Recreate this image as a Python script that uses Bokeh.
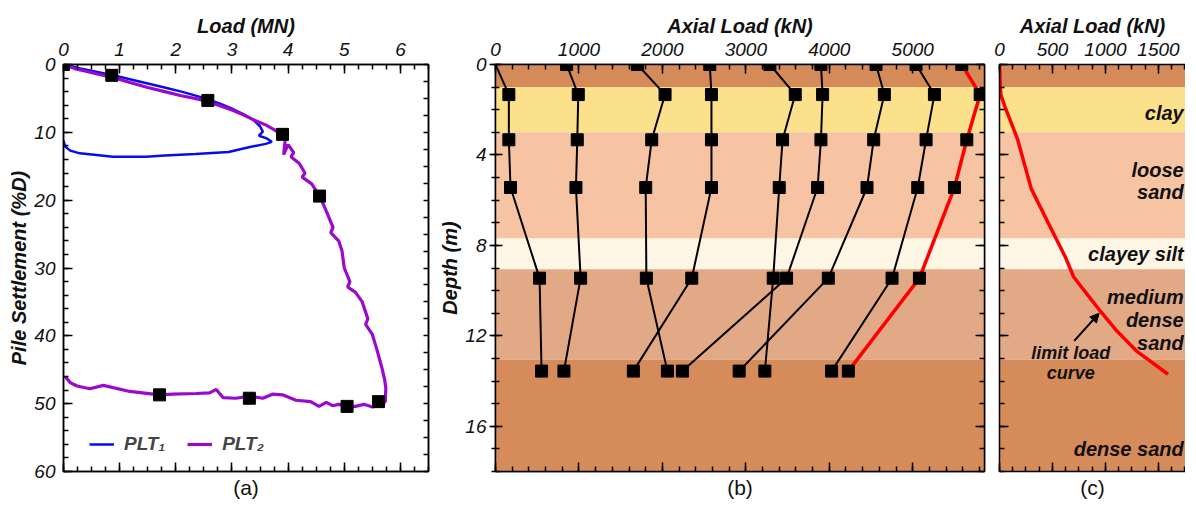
from bokeh.plotting import figure
from bokeh.models import (Range1d, LinearAxis, SingleIntervalTicker, FixedTicker,
                          Arrow, NormalHead, Legend, LegendItem,
                          CustomJSTickFormatter)
from bokeh.layouts import row
from bokeh.embed import file_html
from bokeh.resources import INLINE
from bokeh.core.properties import value

FONT = "Liberation Sans"
TICK_FS = "19px"
TITLE_FS = "20px"

# ---------------- Panel (a): load-settlement ----------------
plt1_load = [0.0, 0.3, 0.6, 0.9, 1.2, 1.5, 1.8, 2.1, 2.4, 2.56, 2.8, 3.0, 3.2, 3.4, 3.5,
             3.55, 3.48, 3.62, 3.71, 3.6, 3.3, 2.94, 2.35, 1.8, 1.47, 0.88, 0.59, 0.29,
             0.12, 0.03, 0.0]
plt1_settle = [0.0, 0.6, 1.1, 1.6, 2.2, 2.8, 3.4, 4.0, 4.7, 5.1, 5.8, 6.5, 7.3, 8.3, 9.1,
               9.9, 10.5, 10.9, 11.4, 11.7, 12.2, 12.9, 13.2, 13.4, 13.6, 13.6, 13.35, 13.1,
               12.7, 12.1, 11.2]

plt2_load = [0.0, 0.2, 0.4, 0.6, 0.88, 1.2, 1.5, 1.8, 2.1, 2.4, 2.57, 2.8, 3.0, 3.2, 3.4,
             3.6, 3.75, 3.88, 3.95, 3.92, 4.0, 4.1, 4.05, 4.2, 4.3, 4.25, 4.42, 4.57, 4.68,
             4.8, 4.76, 4.9, 4.96, 5.0, 5.1, 5.06, 5.2, 5.32, 5.42, 5.38, 5.5, 5.58, 5.67,
             5.72, 5.74, 5.73,
             5.65, 5.5, 5.35, 5.2, 5.05, 4.9, 4.79, 4.68, 4.55, 4.4, 4.14, 3.9, 3.72, 3.55,
             3.31, 3.07, 2.84, 2.72, 2.6, 2.36, 1.95, 1.71, 1.18, 0.71, 0.47, 0.24, 0.12,
             0.03]
plt2_settle = [0.0, 0.6, 1.0, 1.4, 1.9, 2.7, 3.4, 4.0, 4.6, 5.1, 5.5, 6.1, 6.7, 7.4, 8.2,
               8.9, 9.6, 10.3, 11.0, 13.3, 11.8, 13.0, 13.6, 14.6, 16.0, 16.6, 17.6, 19.5,
               21.6, 24.0, 24.8, 26.0, 27.5, 30.0, 32.0, 32.8, 33.6, 35.0, 37.5, 38.3, 39.8,
               42.0, 44.7, 46.5, 47.7, 49.7,
               50.2, 50.5, 50.1, 50.4, 50.4, 50.1, 50.3, 49.8, 50.4, 49.7, 49.5, 48.7, 48.6,
               49.2, 48.9, 49.2, 49.1, 47.9, 48.4, 48.5, 48.6, 48.7, 48.2, 47.3, 47.8, 47.4,
               46.9, 46.0]

stage_load = [0.0, 0.86, 2.57, 3.9, 4.56, 5.61, 5.05, 3.31, 1.71]
stage_settle = [0.0, 1.6, 5.3, 10.3, 19.4, 49.7, 50.4, 49.2, 48.7]

# ---------------- Panel (b): axial load profiles ----------------
gauge_depth = [0.0, 1.33, 3.33, 5.44, 9.45, 13.56]
load_s1 = [0, 160, 160, 180, 528, 552]
load_s2 = [852, 992, 980, 964, 1020, 820]
load_s3 = [1700, 2032, 1872, 1800, 1808, 2060]
load_s4 = [2568, 2588, 2588, 2588, 2352, 1652]
load_s5 = [3288, 3592, 3440, 3400, 3328, 3228]
load_s6 = [3900, 3920, 3900, 3860, 3488, 2240]
load_s7 = [4560, 4660, 4532, 4452, 3988, 2920]
load_s8 = [5040, 5260, 5160, 5060, 4752, 4028]
load_limit = [5588, 5808, 5648, 5500, 5080, 4228]
black_series = [load_s1, load_s2, load_s3, load_s4, load_s5, load_s6, load_s7, load_s8]

# soil layers
layer_top = [0.0, 1.0, 3.0, 7.7, 9.05, 13.05]
layer_bottom = [1.0, 3.0, 7.7, 9.05, 13.05, 18.0]
layer_color = ["#D58A5A", "#FCE18C", "#F6C4A2", "#FEF6E4", "#E2A986", "#D68B5B"]

# ---------------- Panel (c): limit load curve ----------------
limit_curve_load = [0, 8, 12, 50, 170, 300, 480, 620, 700, 800, 950, 1110, 1300, 1590]
limit_curve_depth = [0, 0.96, 1.33, 1.85, 3.3, 5.5, 7.2, 8.5, 9.4, 10.0, 10.9, 11.8, 12.7, 13.7]

layer_label_text = ["clay", "loose", "sand", "clayey silt", "medium", "dense", "sand",
                    "dense sand"]
layer_label_y = [2.15, 4.67, 5.63, 8.4, 10.3, 11.3, 12.3, 17.0]
layer_label_x = [1738] * 8

X_MAX_A, Y_MAX_A = 6.5, 60
X_MAX_B, Y_MAX_B = 5860, 18
X_MAX_C = 1755

BT, FH, BB = 64, 407, 30


def blank():
    return CustomJSTickFormatter(code="return ''")


def style_axis(ax, tick_in=8, tick_out=0, minor_in=4, minor_out=0, labels=True, standoff=8):
    ax.axis_line_width = 1.5
    ax.axis_line_color = "black"
    ax.major_tick_line_width = 1.5
    ax.minor_tick_line_width = 1.5
    ax.major_tick_line_color = "black"
    ax.minor_tick_line_color = "black"
    ax.major_tick_in = tick_in
    ax.major_tick_out = tick_out
    ax.minor_tick_in = minor_in
    ax.minor_tick_out = minor_out
    ax.major_label_text_font = FONT
    ax.major_label_text_font_style = "italic"
    ax.major_label_text_font_size = TICK_FS
    ax.major_label_text_color = "#111111"
    ax.major_label_standoff = standoff
    ax.axis_label_text_font = FONT
    ax.axis_label_text_font_style = "bold italic"
    ax.axis_label_text_font_size = TITLE_FS
    ax.axis_label_text_color = "#111111"
    if not labels:
        ax.formatter = blank()
        ax.major_label_standoff = 0
        ax.major_label_text_font_size = "0px"


def panel_label(ax, text):
    ax.axis_label = text
    ax.axis_label_text_font_style = "normal"
    ax.axis_label_text_font_size = "21px"
    ax.axis_label_standoff = 4


def base_fig(fw, xr, yr, bl, br):
    p = figure(frame_width=fw, frame_height=FH, x_range=xr, y_range=yr,
               x_axis_location="above", toolbar_location=None, output_backend="svg",
               min_border_left=bl, min_border_right=br, min_border_top=BT,
               min_border_bottom=BB)
    p.xgrid.visible = False
    p.ygrid.visible = False
    p.outline_line_color = "black"
    p.outline_line_width = 1.5
    p.background_fill_color = "white"
    p.border_fill_color = "white"
    return p


# ================= Panel (a) =================
p1 = base_fig(365, Range1d(0, X_MAX_A), Range1d(Y_MAX_A, 0), 63, 8)
ax_top = p1.xaxis[0]
ax_top.ticker = SingleIntervalTicker(interval=1, num_minor_ticks=4)
ax_top.axis_label = "Load (MN)"
style_axis(ax_top, tick_in=9, minor_in=5, standoff=9)
ax_top.axis_label_standoff = 3
ax_left = p1.yaxis[0]
ax_left.ticker = SingleIntervalTicker(interval=10, num_minor_ticks=5)
ax_left.axis_label = "Pile Settlement (%D)"
style_axis(ax_left, tick_in=9, minor_in=5, standoff=8)
ax_left.axis_label_standoff = 1
ax_bot = LinearAxis(ticker=SingleIntervalTicker(interval=1, num_minor_ticks=4))
style_axis(ax_bot, tick_in=9, minor_in=5, labels=False)
panel_label(ax_bot, "(a)")
p1.add_layout(ax_bot, "below")
ax_right = LinearAxis(ticker=FixedTicker(ticks=[2.5 * i for i in range(25)], minor_ticks=[]))
style_axis(ax_right, tick_in=5, minor_in=0, labels=False)
p1.add_layout(ax_right, "right")

r_b = p1.line(plt1_load, plt1_settle, color="#0A0AF0", line_width=2.5)
r_p = p1.line(plt2_load, plt2_settle, color="#9A0ACD", line_width=3.2)
p1.scatter(stage_load, stage_settle, marker="square", size=12, color="black")

legend = Legend(items=[LegendItem(label="PLT\u2081", renderers=[r_b]),
                       LegendItem(label="PLT\u2082", renderers=[r_p])],
                orientation="horizontal", location=(26, 16),
                background_fill_alpha=0, border_line_color=None,
                label_text_font=FONT, label_text_font_style="bold italic",
                label_text_font_size="19px", glyph_width=25, spacing=22,
                padding=4, margin=0, label_standoff=10)
p1.add_layout(legend)

# ================= Panel (b) =================
p2 = base_fig(489, Range1d(0, X_MAX_B), Range1d(Y_MAX_B, 0), 58, 5)
p2.quad(left=0, right=X_MAX_B, top=layer_top, bottom=layer_bottom,
        fill_color=layer_color, line_color=None)
bx_top = p2.xaxis[0]
bx_top.ticker = SingleIntervalTicker(interval=1000, num_minor_ticks=5)
bx_top.axis_label = "Axial Load (kN)"
style_axis(bx_top, tick_in=9, minor_in=5, standoff=9)
bx_top.axis_label_standoff = 3
by_left = p2.yaxis[0]
by_left.ticker = SingleIntervalTicker(interval=4, num_minor_ticks=4)
by_left.axis_label = "Depth (m)"
style_axis(by_left, tick_in=7, tick_out=6, minor_in=4, minor_out=4, standoff=3)
by_left.axis_label_standoff = 1
bx_bot = LinearAxis(ticker=SingleIntervalTicker(interval=1000, num_minor_ticks=5))
style_axis(bx_bot, tick_in=9, minor_in=5, labels=False)
panel_label(bx_bot, "(b)")
p2.add_layout(bx_bot, "below")
by_right = LinearAxis(ticker=SingleIntervalTicker(interval=4, num_minor_ticks=4))
style_axis(by_right, tick_in=9, minor_in=5, labels=False)
p2.add_layout(by_right, "right")

for s in black_series:
    p2.line(s, gauge_depth, color="black", line_width=2)
p2.line(load_limit, gauge_depth, color="#FF0000", line_width=3.5)
for s in black_series[1:] + [load_limit]:
    p2.scatter(s, gauge_depth, marker="square", size=12, color="black")
p2.scatter(load_s1[1:], gauge_depth[1:], marker="square", size=12, color="black")

# ================= Panel (c) =================
p3 = base_fig(186, Range1d(0, X_MAX_C), Range1d(Y_MAX_B, 0), 10, 0)
p3.outline_line_color = None
p3.quad(left=0, right=X_MAX_C, top=layer_top, bottom=layer_bottom,
        fill_color=layer_color, line_color=None)
cx_top = p3.xaxis[0]
cx_top.ticker = SingleIntervalTicker(interval=500, num_minor_ticks=4)
cx_top.axis_label = "Axial Load (kN)"
style_axis(cx_top, tick_in=9, minor_in=5, standoff=9)
cx_top.axis_label_standoff = 3
cy_left = p3.yaxis[0]
cy_left.ticker = SingleIntervalTicker(interval=4, num_minor_ticks=4)
style_axis(cy_left, tick_in=9, minor_in=5, labels=False)
cx_bot = LinearAxis(ticker=SingleIntervalTicker(interval=500, num_minor_ticks=4))
style_axis(cx_bot, tick_in=9, minor_in=5, labels=False)
panel_label(cx_bot, "(c)")
p3.add_layout(cx_bot, "below")

p3.line(limit_curve_load, limit_curve_depth, color="#FF0000", line_width=3.5)
p3.text(layer_label_x, layer_label_y, text=layer_label_text, text_align="right",
        text_baseline="middle", text_font=value(FONT), text_font_style="bold italic",
        text_font_size="20px", text_color="#111111")
p3.text([673, 673], [12.74, 13.63], text=["limit load", "curve"], text_align="center",
        text_baseline="middle", text_font=value(FONT), text_font_style="bold italic",
        text_font_size="18px", text_color="#111111")
p3.add_layout(Arrow(end=NormalHead(size=9, fill_color="black", line_color="black"),
                    x_start=705, y_start=12.22, x_end=940, y_end=11.0,
                    line_color="black", line_width=2))

layout = row(p1, p2, p3)
open("out.html", "w").write(file_html(layout, INLINE))
